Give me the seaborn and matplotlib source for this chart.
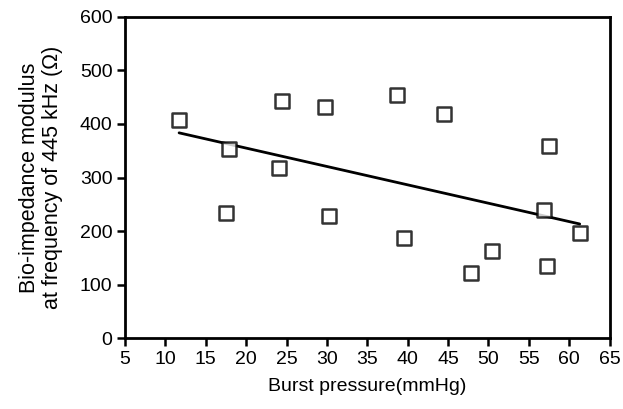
import numpy as np
import pandas as pd
import matplotlib
matplotlib.use("Agg")
import matplotlib.pyplot as plt
import seaborn as sns

# data
burst_pressure = [11.7, 17.9, 17.5, 24.5, 24.1, 29.8, 30.2, 38.7, 39.6, 44.5,
                  47.8, 50.5, 56.9, 57.5, 57.2, 61.3]
impedance = [408, 354, 233, 442, 317, 432, 229, 454, 187, 418,
             121, 162, 239, 359, 135, 196]

df = pd.DataFrame({'Burst pressure': burst_pressure, 'Impedance': impedance})

sns.set_style('ticks')
plt.rcParams['font.family'] = ['Liberation Sans', 'DejaVu Sans']
plt.rcParams['text.color'] = 'black'
plt.rcParams['axes.labelcolor'] = 'black'
plt.rcParams['xtick.color'] = 'black'
plt.rcParams['ytick.color'] = 'black'

fig = plt.figure(figsize=(6.23, 4.09), dpi=100)
ax = fig.add_axes([0.2006, 0.1729, 0.7779, 0.786])

sns.regplot(data=df, x='Burst pressure', y='Impedance', ax=ax, ci=None,
            marker='s', color='black',
            scatter_kws={'s': 110, 'facecolors': 'white', 'edgecolors': 'black',
                         'linewidths': 1.8, 'zorder': 3},
            line_kws={'linewidth': 2, 'color': 'black'})

ax.set_xlim(5, 65)
ax.set_ylim(0, 600)
ax.set_xticks(np.arange(5, 66, 5))
ax.set_yticks(np.arange(0, 601, 100))
ax.set_xlabel('Burst pressure(mmHg)', fontsize=14, labelpad=7)
ax.set_ylabel('Bio-impedance modulus\nat frequency of 445 kHz (Ω)', fontsize=15.5,
              linespacing=1.15, labelpad=12)
ax.tick_params(labelsize=14, width=1.8, length=6, direction='out', pad=3)
for s in ax.spines.values():
    s.set_linewidth(2)
    s.set_color('black')

fig.savefig('out.png', dpi=100)
